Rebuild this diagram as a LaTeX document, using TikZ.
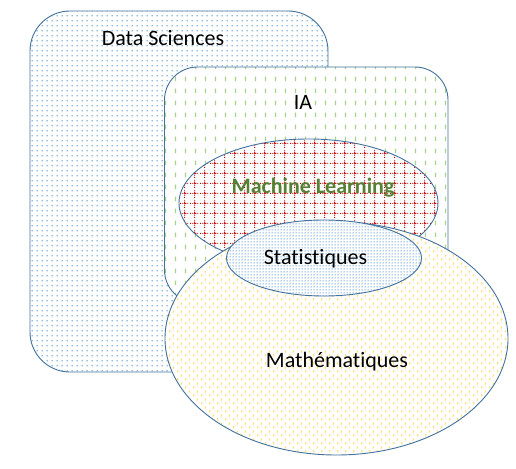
\documentclass[tikz,border=0pt]{standalone}
\usepackage{fontspec}
\setmainfont[Ligatures=NoCommon]{Carlito}
\usetikzlibrary{patterns.meta,shapes.geometric}

\definecolor{edge}{RGB}{65,113,156}
\definecolor{dsblue}{RGB}{91,155,213}
\definecolor{iagreen}{RGB}{169,209,142}
\definecolor{mlred}{RGB}{192,0,0}
\definecolor{stblue}{RGB}{91,155,213}
\definecolor{mayellow}{RGB}{255,217,102}
\definecolor{mltext}{RGB}{84,130,53}

\pgfdeclarepattern{name=dsdots, type=uncolored,
  bottom left={\pgfpoint{0pt}{0pt}}, top right={\pgfpoint{5pt}{5pt}},
  tile size={\pgfpoint{5pt}{5pt}},
  code={\pgfpathrectangle{\pgfpoint{2pt}{2pt}}{\pgfpoint{1.2pt}{1.4pt}}\pgfusepath{fill}}}

\pgfdeclarepattern{name=iadashes, type=uncolored,
  bottom left={\pgfpoint{0pt}{0pt}}, top right={\pgfpoint{9.5pt}{12pt}},
  tile size={\pgfpoint{9.5pt}{12pt}},
  code={\pgfpathrectangle{\pgfpoint{4pt}{3pt}}{\pgfpoint{1.4pt}{5pt}}\pgfusepath{fill}}}

\pgfdeclarepattern{name=mlgrid, type=uncolored,
  bottom left={\pgfpoint{0pt}{0pt}}, top right={\pgfpoint{10pt}{10pt}},
  tile size={\pgfpoint{10pt}{10pt}},
  code={\pgfsetlinewidth{1pt}\pgfsetdash{{1pt}{1pt}}{0pt}
    \pgfpathmoveto{\pgfpoint{0pt}{5pt}}\pgfpathlineto{\pgfpoint{10pt}{5pt}}
    \pgfpathmoveto{\pgfpoint{5pt}{0pt}}\pgfpathlineto{\pgfpoint{5pt}{10pt}}
    \pgfusepath{stroke}}}

\pgfdeclarepattern{name=stdots, type=uncolored,
  bottom left={\pgfpoint{0pt}{0pt}}, top right={\pgfpoint{2.6pt}{2.6pt}},
  tile size={\pgfpoint{2.6pt}{2.6pt}},
  code={\pgfpathrectangle{\pgfpoint{0.6pt}{0.6pt}}{\pgfpoint{1.3pt}{1.3pt}}\pgfusepath{fill}}}

\pgfdeclarepattern{name=machev, type=uncolored,
  bottom left={\pgfpoint{0pt}{0pt}}, top right={\pgfpoint{8pt}{8pt}},
  tile size={\pgfpoint{8pt}{8pt}},
  code={\pgfsetlinewidth{0.8pt}
    \pgfpathmoveto{\pgfpoint{1.3pt}{0.8pt}}\pgfpathlineto{\pgfpoint{2.5pt}{2pt}}\pgfpathlineto{\pgfpoint{1.3pt}{3.2pt}}
    \pgfpathmoveto{\pgfpoint{5.3pt}{4.8pt}}\pgfpathlineto{\pgfpoint{6.5pt}{6pt}}\pgfpathlineto{\pgfpoint{5.3pt}{7.2pt}}
    \pgfusepath{stroke}}}

\tikzset{
  shapeline/.style={draw=edge, line width=0.9pt, inner sep=0pt, outer sep=0pt, preaction={fill=white}},
  dsbox/.style={shapeline, rectangle, rounded corners=40pt, pattern=dsdots, pattern color=dsblue},
  iabox/.style={shapeline, rectangle, rounded corners=33pt, pattern=iadashes, pattern color=iagreen},
  mlell/.style={shapeline, ellipse, pattern=mlgrid, pattern color=mlred},
  mathell/.style={shapeline, ellipse, pattern=machev, pattern color=mayellow},
  statell/.style={shapeline, ellipse, pattern=stdots, pattern color=stblue},
  lbl/.style={font=\fontsize{22}{26}\selectfont, text=black, inner sep=0pt, anchor=base},
}

\begin{document}
\begin{tikzpicture}[x=1pt,y=-1pt]
\useasboundingbox (0,0) rectangle (516,468);
\node[dsbox, minimum width=298pt, minimum height=361pt] (ds) at (179,191.5) {};
\node[iabox, minimum width=283.5pt, minimum height=236pt] (ia) at (306.25,185) {};
\node[mlell, minimum width=259pt, minimum height=128pt] (ml) at (308.5,203) {};
\node[mathell, minimum width=343pt, minimum height=233pt] (ma) at (336.5,338.5) {};
\node[statell, minimum width=195pt, minimum height=76pt] (st) at (324,258) {};

\node[lbl] (tds) at (163,46) {Data Sciences};
\node[lbl] (tia) at (303,110) {IA};
\node[lbl, text=mltext, font=\fontsize{22}{26}\selectfont\bfseries] (tml) at (313,193) {Machine Learning};
\node[lbl] (tst) at (315.5,264.3) {Statistiques};
\node[lbl] (tma) at (337,367) {Mathématiques};
\end{tikzpicture}
\end{document}
